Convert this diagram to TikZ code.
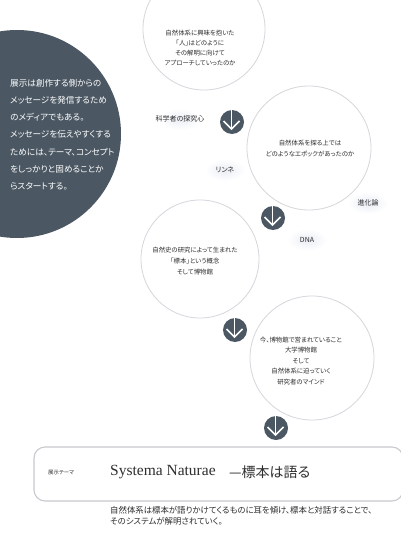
\documentclass[tikz,border=0pt]{standalone}
\usepackage{fontspec}
\setmainfont{Noto Sans CJK JP}[RawFeature={+palt}]
\newfontfamily\latinserif{Liberation Serif}
\definecolor{slate}{HTML}{4B5863}
\definecolor{ringgray}{HTML}{D6D6DC}
\definecolor{boxgray}{HTML}{C9C9CE}
\definecolor{inktext}{HTML}{2E2E2E}
\definecolor{haze}{HTML}{EAEDF5}
\tikzset{
  theme/.style={circle, draw=ringgray, line width=0.8pt, fill=white, inner sep=0pt, minimum size=#1},
  themetext/.style={font=\fontsize{6.4}{10.2}\selectfont, align=center, text=inktext, inner sep=0pt},
  downicon/.style={circle, fill=slate, inner sep=0pt, minimum size=24pt},
  keyword/.style={font=\fontsize{7}{8}\selectfont, text=inktext, inner sep=1pt},
}
\newcommand{\arrowicon}[2]{%
  \node[downicon] (#1) at (#2) {};
  \draw[white, line width=1.5pt] ([shift={(-0.5,-12)}]#1.center) -- ([shift={(-0.5,7)}]#1.center);
  \draw[white, line width=1.5pt, line join=miter] ([shift={(-8.5,-1)}]#1.center) -- ([shift={(-0.5,7)}]#1.center) -- ([shift={(7.5,-1)}]#1.center);
}
\newcommand{\hazelabel}[3]{%
  \shade[inner color=haze, outer color=white] (#2) ellipse (20 and 11);
  \node[keyword] (#1) at (#2) {#3};
}
\begin{document}
\begin{tikzpicture}[x=1pt, y=-1pt]
\useasboundingbox (0,0) rectangle (400,534);
\fill[white] (0,0) rectangle (400,534);

\node[circle, fill=slate, inner sep=0pt, minimum size=208pt] (intro) at (17,134) {};
\node[anchor=west, align=left, text=white, font=\fontsize{8.6}{17.2}\selectfont, inner sep=0pt] (introtext) at (10,134.5)
  {展示は創作する側からの\\メッセージを発信するため\\のメディアでもある。\\メッセージを伝えやすくする\\ためには、テーマ、コンセプト\\をしっかりと固めることか\\らスタートする。};

\node[theme=122pt] (c1) at (204,29) {};
\node[theme=124pt] (c2) at (309,148) {};
\node[theme=118pt] (c3) at (200,259) {};
\node[theme=124pt] (c4) at (312,358) {};

\node[themetext] (t1) at (200,48) {自然体系に興味を抱いた\\「人」はどのように\\その解明に向けて\\アプローチしていったのか};
\node[themetext, font=\fontsize{6.4}{11}\selectfont] (t2) at (310,148.5) {自然体系を探る上では\\どのようなエポックがあったのか};
\node[themetext, font=\fontsize{6.4}{11}\selectfont] (t3) at (195,261) {自然史の研究によって生まれた\\「標本」という概念\\そして博物館};
\node[themetext, font=\fontsize{6.4}{10.5}\selectfont] (t4) at (301,361) {今、博物館で営まれていること\\大学博物館\\そして\\自然体系に迫っていく\\研究者のマインド};

\arrowicon{a1}{232,122}
\arrowicon{a2}{273,218}
\arrowicon{a3}{235,330}
\arrowicon{a4}{276,428}

\hazelabel{k1}{180,119}{科学者の探究心}
\hazelabel{k2}{225,170}{リンネ}
\hazelabel{k3}{368,203}{進化論}
\hazelabel{k4}{307,240}{DNA}

\draw[boxgray, line width=1.1pt, rounded corners=11pt] (34,447) rectangle (403,501);
\node[anchor=west, font=\fontsize{5.4}{6}\selectfont, text=inktext, inner sep=0pt] (label) at (48,473) {展示テーマ};
\node[anchor=west, font=\latinserif\fontsize{15.5}{16}\selectfont, text=inktext, inner sep=0pt] (title) at (110,472) {Systema Naturae};
\node[anchor=west, font=\fontsize{14}{15}\selectfont, text=inktext, inner sep=0pt] (subtitle) at (229,472) {—標本は語る};

\node[anchor=north west, align=left, font=\fontsize{8.4}{11}\selectfont, text=inktext, inner sep=0pt] (summary) at (110,506)
  {自然体系は標本が語りかけてくるものに耳を傾け、標本と対話することで、\\そのシステムが解明されていく。};
\end{tikzpicture}
\end{document}
